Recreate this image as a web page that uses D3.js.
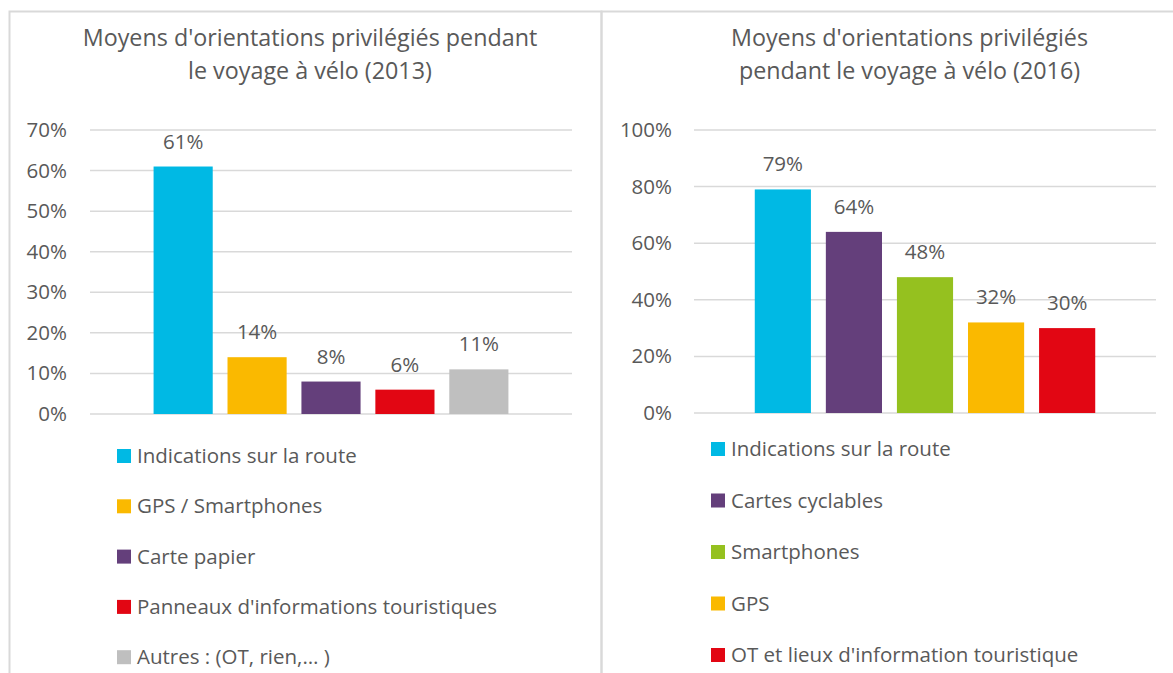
<!DOCTYPE html>
<html>
<head>
<meta charset="utf-8">
<script src="https://cdn.jsdelivr.net/npm/d3@7"></script>
<style>
  body { margin: 0; background: #fff; }
  svg text { font-family: "Open Sans", sans-serif; fill: #595959; }
</style>
</head>
<body>
<div id="chart"></div>
<script>
// 2013 chart data
const labels2013 = ["Indications sur la route", "GPS / Smartphones", "Carte papier", "Panneaux d'informations touristiques", "Autres : (OT, rien,… )"];
const values2013 = [0.61, 0.14, 0.08, 0.06, 0.11];
const colors2013 = ["#00B9E4", "#FAB900", "#643F7B", "#E20613", "#BFBFBF"];
const ticks2013 = [0, 0.1, 0.2, 0.3, 0.4, 0.5, 0.6, 0.7];
const title2013 = ["Moyens d'orientations privilégiés pendant", "le voyage à vélo (2013)"];

// 2016 chart data
const labels2016 = ["Indications sur la route", "Cartes cyclables", "Smartphones", "GPS", "OT et lieux d'information touristique"];
const values2016 = [0.79, 0.64, 0.48, 0.32, 0.30];
const colors2016 = ["#00B9E4", "#643F7B", "#95C11F", "#FAB900", "#E20613"];
const ticks2016 = [0, 0.2, 0.4, 0.6, 0.8, 1.0];
const title2016 = ["Moyens d'orientations privilégiés", "pendant le voyage à vélo (2016)"];

const svg = d3.select("#chart")
  .append("svg")
  .attr("width", 1173)
  .attr("height", 673);

// panel borders
svg.append("rect")
  .attr("x", 9.5).attr("y", 11.5)
  .attr("width", 592).attr("height", 700)
  .attr("fill", "none").attr("stroke", "#D9D9D9").attr("stroke-width", 2);
svg.append("rect")
  .attr("x", 601.5).attr("y", 11.5)
  .attr("width", 600).attr("height", 700)
  .attr("fill", "none").attr("stroke", "#D9D9D9").attr("stroke-width", 2);

function drawChart(cfg) {
  const g = svg.append("g");

  const y = d3.scaleLinear().domain([0, cfg.max]).range([cfg.bottom, cfg.top]);
  const x = d3.scaleBand()
    .domain(cfg.labels)
    .range([cfg.left, cfg.right])
    .paddingInner(cfg.padInner)
    .paddingOuter(cfg.padOuter);

  // title
  g.selectAll(".title")
    .data(cfg.title)
    .join("text")
    .attr("class", "title")
    .attr("x", cfg.titleX)
    .attr("y", (d, i) => 45.5 + i * 33)
    .attr("text-anchor", "middle")
    .style("font-size", "23.3px")
    .text(d => d);

  // gridlines
  g.selectAll(".grid")
    .data(cfg.ticks)
    .join("line")
    .attr("x1", cfg.left).attr("x2", cfg.right)
    .attr("y1", d => y(d)).attr("y2", d => y(d))
    .attr("stroke", "#D9D9D9")
    .attr("stroke-width", 1.5);

  // y axis labels
  const yAxis = g.append("g")
    .attr("transform", `translate(${cfg.tickRight},0)`)
    .call(d3.axisLeft(y).tickValues(cfg.ticks).tickFormat(d3.format(".0%")).tickSize(0).tickPadding(0));
  yAxis.select(".domain").remove();
  yAxis.selectAll("text")
    .style("font-size", "20.5px")
    .attr("fill", "#595959")
    .attr("font-family", null);

  // bars
  const data = cfg.labels.map((l, i) => ({ label: l, value: cfg.values[i], color: cfg.colors[i] }));
  g.selectAll(".bar")
    .data(data)
    .join("rect")
    .attr("x", d => x(d.label))
    .attr("width", x.bandwidth())
    .attr("y", d => y(d.value))
    .attr("height", d => cfg.bottom - y(d.value))
    .attr("fill", d => d.color);

  // data labels
  g.selectAll(".val")
    .data(data)
    .join("text")
    .attr("x", d => x(d.label) + x.bandwidth() / 2)
    .attr("y", d => y(d.value) - 18)
    .attr("text-anchor", "middle")
    .style("font-size", "20.5px")
    .text(d => d3.format(".0%")(d.value));

  // legend
  const leg = g.selectAll(".leg")
    .data(data)
    .join("g")
    .attr("transform", (d, i) => `translate(${cfg.legX},${cfg.legY + i * cfg.legStep})`);
  leg.append("rect")
    .attr("x", 0).attr("y", -7)
    .attr("width", 14).attr("height", 14)
    .attr("fill", d => d.color);
  leg.append("text")
    .attr("x", 20)
    .attr("y", 0)
    .attr("dy", "0.35em")
    .style("font-size", "20.5px")
    .text(d => d.label);
}

drawChart({
  labels: labels2013, values: values2013, colors: colors2013, ticks: ticks2013, title: title2013,
  max: 0.7, top: 130, bottom: 414, left: 90, right: 572,
  padInner: 0.2, padOuter: 0.86, tickRight: 67, titleX: 310,
  legX: 117, legY: 456, legStep: 50.3
});

drawChart({
  labels: labels2016, values: values2016, colors: colors2016, ticks: ticks2016, title: title2016,
  max: 1.0, top: 130, bottom: 413, left: 694, right: 1156,
  padInner: 0.21, padOuter: 0.855, tickRight: 672, titleX: 909.5,
  legX: 711, legY: 449, legStep: 51.5
});
</script>
</body>
</html>
